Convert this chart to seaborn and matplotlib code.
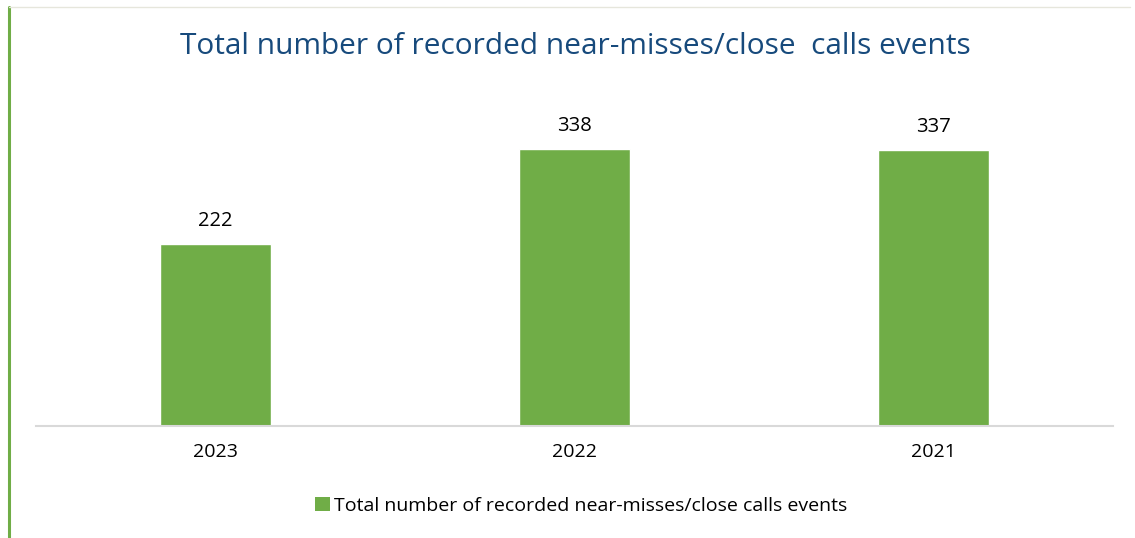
import matplotlib
matplotlib.use("Agg")
import matplotlib.pyplot as plt
import seaborn as sns
import pandas as pd
from matplotlib.lines import Line2D
from matplotlib.patches import Patch

years = ["2023", "2022", "2021"]
events = [222, 338, 337]
series_name = "Total number of recorded near-misses/close calls events"
title = "Total number of recorded near-misses/close  calls events"

df = pd.DataFrame({"year": years, "events": events})

sns.set_theme(style="white")
plt.rcParams["font.family"] = ["Open Sans", "DejaVu Sans"]
plt.rcParams["text.color"] = "#000000"

W, H = 1135, 538
fig = plt.figure(figsize=(W / 100, H / 100), dpi=100)
ax = fig.add_axes([36 / W, 112 / H, (1113 - 36) / W, (426 - 98) / H])

green = "#70AD47"
sns.barplot(data=df, x="year", y="events", color=green, width=0.31,
            saturation=1, ax=ax)

ax.set_ylim(0, 400)
ax.set_xlim(-0.5, 2.5)
for s in ["top", "right", "left"]:
    ax.spines[s].set_visible(False)
ax.spines["bottom"].set_color("#D9D9D9")
ax.spines["bottom"].set_linewidth(1.5)
ax.set_yticks([])
ax.set_xlabel("")
ax.set_ylabel("")
ax.tick_params(axis="x", length=0, pad=12, labelsize=14, labelcolor="#000000")

for c in ax.containers:
    ax.bar_label(c, labels=[str(v) for v in events], padding=9,
                 fontsize=14.5, color="#000000")

fig.text(575 / W, 1 - 47 / H, title, ha="center", va="center",
         fontsize=21.5, color="#174A7C")

handle = Patch(facecolor=green, edgecolor="none")
leg = fig.legend([handle], [series_name], loc="center", bbox_to_anchor=(581 / W, 1 - 506 / H),
                 frameon=False, fontsize=14, handlelength=0.75, handleheight=0.75,
                 handletextpad=0.2)
for t in leg.get_texts():
    t.set_color("#000000")

# page frame: green left rule and faint top rule
fig.add_artist(Line2D([9 / W, 9 / W], [0, 1 - 7 / H], color="#70AD47", lw=2.2))
fig.add_artist(Line2D([9 / W, 1130 / W], [1 - 7 / H, 1 - 7 / H], color="#E6E6DC", lw=1))

fig.savefig("out.png", dpi=100)
